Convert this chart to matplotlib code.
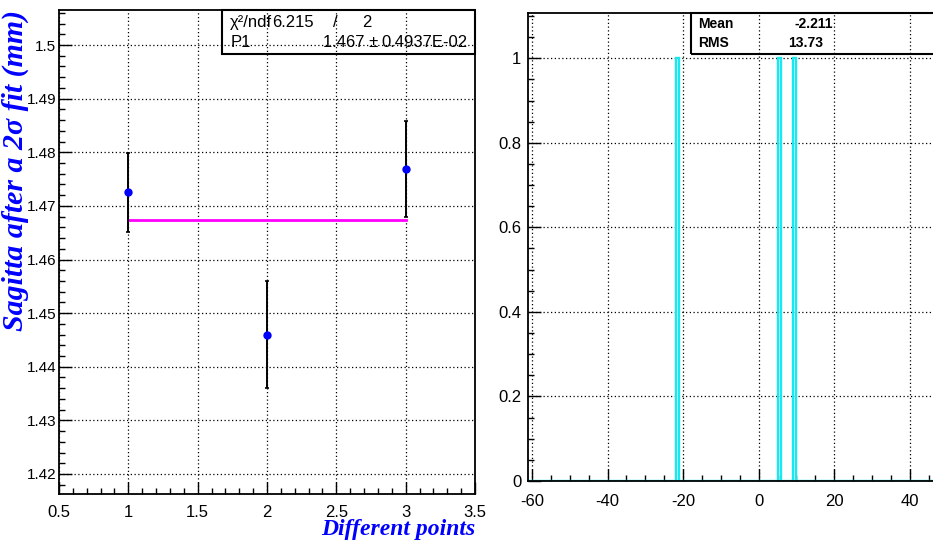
import numpy as np
import matplotlib
matplotlib.use("Agg")
import matplotlib.pyplot as plt
from matplotlib.ticker import MultipleLocator
from matplotlib.patches import Rectangle

# sagitta per measurement point
points = [1, 2, 3]
sagitta = [1.4725, 1.446, 1.4769]
sagitta_err = [0.0074, 0.0100, 0.0090]

# constant fit result (pol0)
fit_p1 = 1.4673
fit_p1_err = 0.4937e-2
fit_chi2 = 6.215
fit_ndf = 2

# residual histogram entries
resid = [-21.5, 5.2, 9.6]
resid_mean = -2.211
resid_rms = 13.73

W, H = 933, 544
plt.rcParams['font.family'] = ['Liberation Sans', 'DejaVu Sans']
plt.rcParams['axes.unicode_minus'] = False
fig = plt.figure(figsize=(W / 100, H / 100), dpi=100)

title_font = dict(family='Liberation Serif', weight='bold', style='italic', color='blue')
grid_kw = dict(color='black', linestyle=(0, (1, 2)), linewidth=0.9)


def px_axes(x0, y0, x1, y1):
    return fig.add_axes([x0 / W, 1 - y1 / H, (x1 - x0) / W, (y1 - y0) / H])


def root_style(ax):
    ax.tick_params(which='both', direction='in', top=False, right=False, labelsize=12)
    ax.tick_params(which='major', length=9, width=1)
    ax.tick_params(which='minor', length=4.5, width=1)
    for s in ax.spines.values():
        s.set_linewidth(1.3)
    ax.grid(True, which='major', **grid_kw)
    ax.set_axisbelow(True)


# ---- left: sagitta vs point ----
ax1 = px_axes(59, 10, 475, 494)
ax1.set_xlim(0.5, 3.5)
ax1.set_ylim(1.41627, 1.50653)
ax1.xaxis.set_minor_locator(MultipleLocator(0.1))
ax1.yaxis.set_minor_locator(MultipleLocator(0.002))
ax1.set_xticks([0.5, 1, 1.5, 2, 2.5, 3, 3.5])
ax1.set_xticklabels(['0.5', '1', '1.5', '2', '2.5', '3', '3.5'])
yt = np.round(np.arange(1.42, 1.501, 0.01), 2)
ax1.set_yticks(yt)
ax1.set_yticklabels(['%g' % v for v in yt])
root_style(ax1)
ax1.tick_params(axis='y', pad=2, labelsize=11)
ax1.tick_params(axis='x', pad=8)

ax1.errorbar(points, sagitta, yerr=sagitta_err, fmt='o', color='blue', ms=5,
             ecolor='black', elinewidth=1.4, capsize=1.5, capthick=1.2, zorder=3)
ax1.plot([points[0], points[-1]], [fit_p1, fit_p1], color='magenta', lw=2, zorder=2)

# fit statistics box
ax1.add_patch(Rectangle((0.392, 0.9085), 0.608, 0.0915, transform=ax1.transAxes,
                        fill=False, edgecolor='black', lw=1.5, zorder=4, clip_on=False))
tk = dict(transform=ax1.transAxes, fontsize=12, va='center', zorder=5)
ax1.text(0.411, 0.975, '\u03c7\u00b2/ndf', **tk)
ax1.text(0.512, 0.975, '%.3f' % fit_chi2, **tk)
ax1.text(0.659, 0.975, '/', **tk)
ax1.text(0.728, 0.975, '%d' % fit_ndf, **tk)
ax1.text(0.413, 0.932, 'P1', **tk)
ax1.text(0.767, 0.932, '%.3f \u00b1' % fit_p1, ha='right', **tk)
ax1.text(0.776, 0.932, '0.4937E-02', **tk)

ax1.set_ylabel('Sagitta after a 2\u03c3 fit (mm)', fontsize=21.5, **title_font)
ax1.yaxis.set_label_coords(-0.106, 1.0)
ax1.yaxis.label.set_ha('right')
ax1.yaxis.label.set_va('center')
ax1.set_xlabel('Different points', fontsize=17, **title_font)
ax1.xaxis.set_label_coords(1.0, -0.052)
ax1.xaxis.label.set_ha('right')

# ---- right: residual histogram ----
ax2 = px_axes(528.3, 13, 989, 481)
ax2.set_xlim(-61, 61)
ax2.set_ylim(0, 1.107)
ax2.set_xticks([-60, -40, -20, 0, 20, 40])
ax2.xaxis.set_minor_locator(MultipleLocator(5))
ax2.yaxis.set_minor_locator(MultipleLocator(0.05))
ax2.set_yticks([0, 0.2, 0.4, 0.6, 0.8, 1.0])
ax2.set_yticklabels(['0', '0.2', '0.4', '0.6', '0.8', '1'])
root_style(ax2)
ax2.tick_params(axis='y', pad=5)
ax2.tick_params(axis='x', pad=9)

bins = np.arange(-61, 61.5, 1.0)
ax2.hist(resid, bins=bins, histtype='step', color='#18e8f0', lw=1.7, zorder=2)

ax2.add_patch(Rectangle((0.353, 0.9118), 0.647, 0.0882, transform=ax2.transAxes,
                        fill=False, edgecolor='black', lw=1.5, zorder=4, clip_on=False))
tk2 = dict(transform=ax2.transAxes, fontsize=10, va='center', weight='bold', zorder=5)
ax2.text(0.368, 0.9765, 'Mean', **tk2)
ax2.text(0.368, 0.935, 'RMS', **tk2)
ax2.text(0.661, 0.9765, '%.3f' % resid_mean, ha='right', **tk2)
ax2.text(0.640, 0.935, '%.2f' % resid_rms, ha='right', **tk2)

fig.savefig('out.png', dpi=100)
